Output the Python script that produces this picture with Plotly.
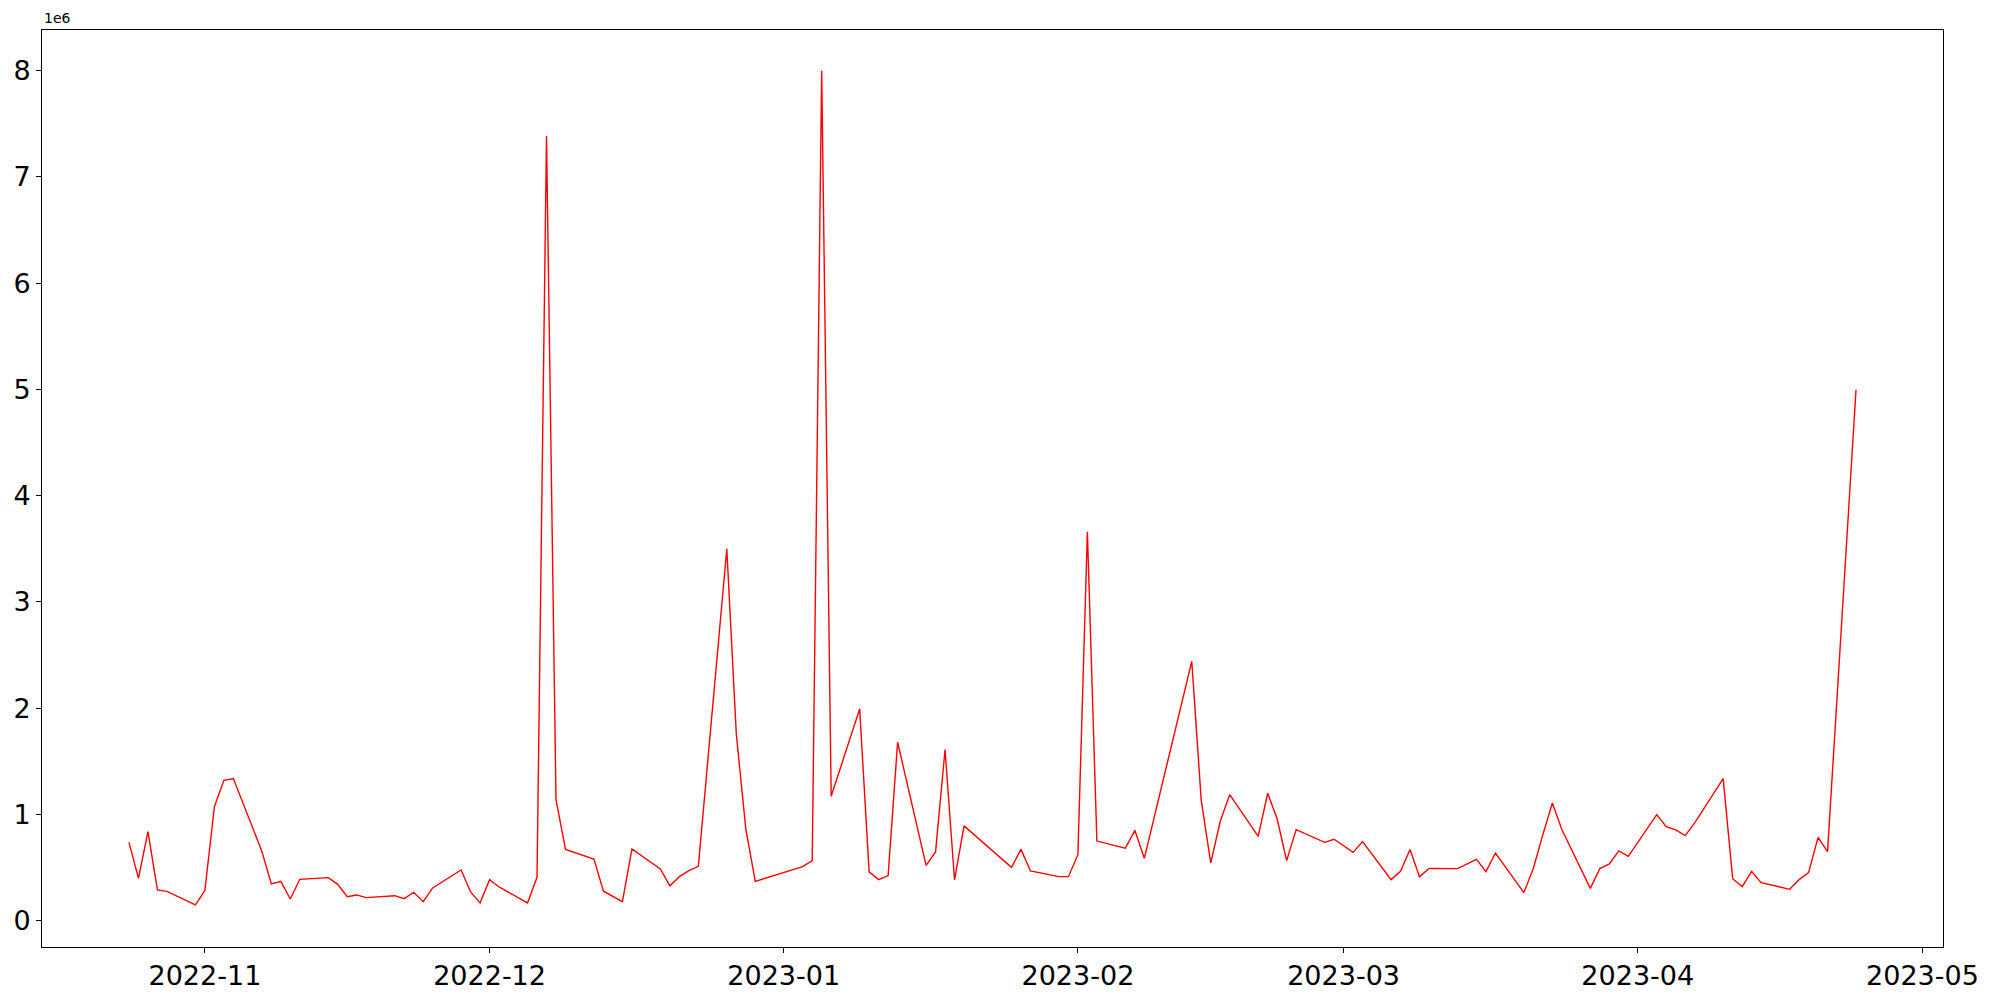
import plotly.graph_objects as go

dates = [
    "2022-10-24", "2022-10-25", "2022-10-26", "2022-10-27", "2022-10-28", "2022-10-31",
    "2022-11-01", "2022-11-02", "2022-11-03", "2022-11-04", "2022-11-07", "2022-11-08",
    "2022-11-09", "2022-11-10", "2022-11-11", "2022-11-14", "2022-11-15", "2022-11-16",
    "2022-11-17", "2022-11-18", "2022-11-21", "2022-11-22", "2022-11-23", "2022-11-24",
    "2022-11-25", "2022-11-28", "2022-11-29", "2022-11-30", "2022-12-01", "2022-12-02",
    "2022-12-05", "2022-12-06", "2022-12-07", "2022-12-08", "2022-12-09", "2022-12-12",
    "2022-12-13", "2022-12-15", "2022-12-16", "2022-12-19", "2022-12-20", "2022-12-21",
    "2022-12-22", "2022-12-23", "2022-12-26", "2022-12-27", "2022-12-28", "2022-12-29",
    "2023-01-03", "2023-01-04", "2023-01-05", "2023-01-06", "2023-01-09", "2023-01-10",
    "2023-01-11", "2023-01-12", "2023-01-13", "2023-01-16", "2023-01-17", "2023-01-18",
    "2023-01-19", "2023-01-20", "2023-01-25", "2023-01-26", "2023-01-27", "2023-01-30",
    "2023-01-31", "2023-02-01", "2023-02-02", "2023-02-03", "2023-02-06", "2023-02-07",
    "2023-02-08", "2023-02-13", "2023-02-14", "2023-02-15", "2023-02-16", "2023-02-17",
    "2023-02-20", "2023-02-21", "2023-02-22", "2023-02-23", "2023-02-24", "2023-02-27",
    "2023-02-28", "2023-03-02", "2023-03-03", "2023-03-06", "2023-03-07", "2023-03-08",
    "2023-03-09", "2023-03-10", "2023-03-13", "2023-03-14", "2023-03-15", "2023-03-16",
    "2023-03-17", "2023-03-20", "2023-03-21", "2023-03-22", "2023-03-23", "2023-03-24",
    "2023-03-27", "2023-03-28", "2023-03-29", "2023-03-30", "2023-03-31", "2023-04-03",
    "2023-04-04", "2023-04-05", "2023-04-06", "2023-04-07", "2023-04-10", "2023-04-11",
    "2023-04-12", "2023-04-13", "2023-04-14", "2023-04-17", "2023-04-18", "2023-04-19",
    "2023-04-20", "2023-04-21", "2023-04-24",
]

values = [
    737000, 398000, 838000, 289000, 276000, 148000,
    285000, 1073000, 1321000, 1337000, 653000, 345000,
    370000, 204000, 389000, 405000, 342000, 226000,
    242000, 217000, 235000, 207000, 267000, 179000,
    308000, 477000, 270000, 167000, 386000, 317000,
    167000, 408000, 7385000, 1139000, 670000, 580000,
    277000, 179000, 675000, 486000, 328000, 414000,
    470000, 511000, 3500000, 1760000, 863000, 369000,
    509000, 565000, 8000000, 1170000, 1993000, 459000,
    386000, 424000, 1679000, 521000, 647000, 1610000,
    383000, 892000, 502000, 671000, 468000, 414000,
    414000, 621000, 3660000, 749000, 681000, 850000,
    587000, 2440000, 1130000, 543000, 935000, 1186000,
    794000, 1199000, 957000, 565000, 857000, 737000,
    766000, 643000, 744000, 386000, 464000, 669000,
    414000, 492000, 490000, 537000, 577000, 461000,
    637000, 264000, 494000, 810000, 1108000, 857000,
    304000, 490000, 534000, 656000, 605000, 998000,
    885000, 854000, 800000, 920000, 1337000, 395000,
    320000, 464000, 358000, 295000, 386000, 452000,
    784000, 650000, 4997000,
]

ytick_vals = [0, 1e6, 2e6, 3e6, 4e6, 5e6, 6e6, 7e6, 8e6]
ytick_text = ["0", "1", "2", "3", "4", "5", "6", "7", "8"]
xtick_vals = ["2022-11-01", "2022-12-01", "2023-01-01", "2023-02-01",
              "2023-03-01", "2023-04-01", "2023-05-01"]
xtick_text = ["2022-11", "2022-12", "2023-01", "2023-02", "2023-03", "2023-04", "2023-05"]

fig = go.Figure()
fig.add_trace(go.Scatter(
    x=dates, y=values, mode="lines",
    line=dict(color="#ff0000", width=1.4),
    showlegend=False,
))

axis_common = dict(
    showline=True, linecolor="black", linewidth=1, mirror=True,
    ticks="outside", ticklen=5, tickwidth=1, tickcolor="black",
    showgrid=False, zeroline=False, automargin=False,
    tickfont=dict(family="DejaVu Sans", size=27, color="black"),
)

fig.update_layout(
    width=2000, height=1000,
    margin=dict(l=34, r=65, t=22, b=61),
    paper_bgcolor="white", plot_bgcolor="white",
    xaxis=dict(
        range=["2022-10-14 20:00", "2023-05-03 04:00"],
        tickvals=xtick_vals, ticktext=xtick_text,
        **axis_common,
    ),
    yaxis=dict(
        range=[-248000, 8383000],
        tickvals=ytick_vals, ticktext=ytick_text,
        **axis_common,
    ),
    annotations=[dict(
        text="1e6", xref="paper", yref="paper", x=0, y=1,
        xanchor="left", yanchor="bottom", showarrow=False,
        font=dict(family="DejaVu Sans", size=14, color="black"),
        yshift=2,
    )],
)

fig.write_html("out.html")
